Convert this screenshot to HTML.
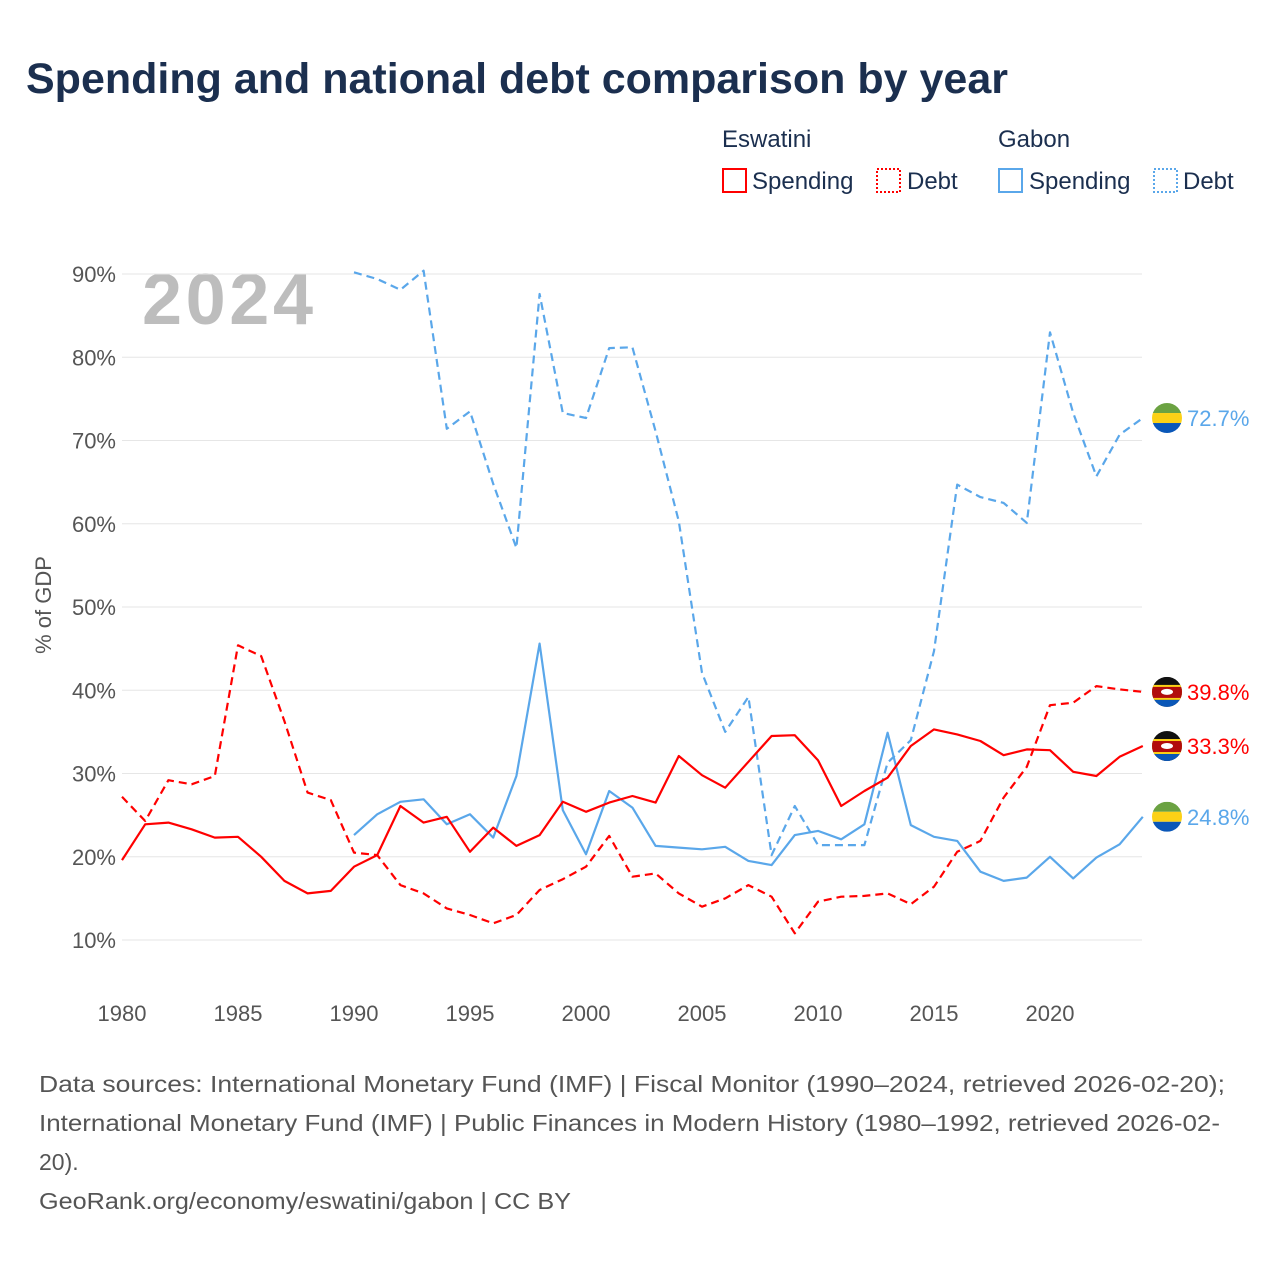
<!DOCTYPE html>
<html><head><meta charset="utf-8"><style>
body{margin:0;background:#fff;font-family:"Liberation Sans",sans-serif;}
#wrap{position:relative;width:1280px;height:1280px;overflow:hidden;}
</style></head><body>
<div id="wrap">
<svg id="chart" width="1280" height="1280" xmlns="http://www.w3.org/2000/svg">
<text x="26" y="93" font-size="43" font-weight="bold" fill="#1b2f4f" font-family="Liberation Sans, sans-serif">Spending and national debt comparison by year</text>
<g font-size="24" fill="#1b2f4f" font-family="Liberation Sans, sans-serif">
<text x="722" y="147">Eswatini</text>
<text x="998" y="147">Gabon</text>
<g><rect x="723" y="169" width="23" height="23" fill="none" stroke="#ff0000" stroke-width="2"/><text x="752" y="189">Spending</text></g>
<g><rect x="877" y="169" width="23" height="23" fill="none" stroke="#ff0000" stroke-width="2" stroke-dasharray="2,2"/><text x="907" y="189">Debt</text></g>
<g><rect x="999" y="169" width="23" height="23" fill="none" stroke="#5aa7ea" stroke-width="2"/><text x="1029" y="189">Spending</text></g>
<g><rect x="1154" y="169" width="23" height="23" fill="none" stroke="#5aa7ea" stroke-width="2" stroke-dasharray="2,2"/><text x="1183" y="189">Debt</text></g>
</g>
<text x="142" y="324" font-size="72" font-weight="bold" fill="#bdbdbd" textLength="171">2024</text>
<text transform="translate(51,605) rotate(-90)" text-anchor="middle" font-size="22" fill="#555">% of GDP</text>
<g id="grid"></g><g id="series"></g><g id="ends"></g>
<g font-size="23" fill="#555">
<text x="39" y="1092" textLength="1186" lengthAdjust="spacingAndGlyphs">Data sources: International Monetary Fund (IMF) | Fiscal Monitor (1990–2024, retrieved 2026-02-20);</text>
<text x="39" y="1131" textLength="1181" lengthAdjust="spacingAndGlyphs">International Monetary Fund (IMF) | Public Finances in Modern History (1980–1992, retrieved 2026-02-</text>
<text x="39" y="1170">20).</text>
<text x="39" y="1209" textLength="532" lengthAdjust="spacingAndGlyphs">GeoRank.org/economy/eswatini/gabon | CC BY</text>
</g>
</svg>
</div>
<script>
const yTicks=[10,20,30,40,50,60,70,80,90];
const xTicks=[1980,1985,1990,1995,2000,2005,2010,2015,2020];
const eswSpending=[19.6,23.9,24.1,23.3,22.3,22.4,20.0,17.1,15.6,15.9,18.8,20.2,26.1,24.1,24.8,20.6,23.5,21.3,22.6,26.6,25.4,26.5,27.3,26.5,32.1,29.8,28.3,31.4,34.5,34.6,31.6,26.1,27.9,29.5,33.3,35.3,34.7,33.9,32.2,32.9,32.8,30.2,29.7,32.0,33.3];
const eswDebt=[27.2,24.3,29.2,28.7,29.7,45.4,44.1,36.3,27.7,26.8,20.5,20.2,16.6,15.6,13.8,13.0,12.0,13.0,16.0,17.3,18.8,22.5,17.6,18.0,15.6,14.0,15.0,16.6,15.2,10.8,14.6,15.2,15.3,15.6,14.3,16.4,20.6,21.9,27.1,30.8,38.2,38.5,40.5,40.1,39.8];
const gabSpending=[22.6,25.1,26.6,26.9,23.9,25.1,22.3,29.7,45.6,25.6,20.3,27.9,25.9,21.3,21.1,20.9,21.2,19.5,19.0,22.6,23.1,22.1,23.9,34.9,23.8,22.4,21.9,18.2,17.1,17.5,20.0,17.4,19.9,21.5,24.8];
const gabDebt=[90.2,89.4,88.1,90.4,71.4,73.5,64.8,57.1,87.6,73.3,72.7,81.1,81.2,71.1,60.3,42.1,35.0,39.2,20.2,26.1,21.4,21.4,21.4,31.3,34.0,44.7,64.7,63.2,62.5,60.1,83.0,73.3,65.7,70.7,72.7];
const NS='http://www.w3.org/2000/svg';
const X=yr=>122+(yr-1980)*23.2;
const Y=v=>274+(90-v)*8.325;
function mk(tag,attrs,parent){const e=document.createElementNS(NS,tag);for(const k in attrs)e.setAttribute(k,attrs[k]);parent.appendChild(e);return e;}
const grid=document.getElementById('grid');
yTicks.forEach(t=>{
 const l=mk('line',{x1:122,x2:1142,y1:Y(t),y2:Y(t),stroke:'#e6e6e6','stroke-width':1},grid);
 
 
 const tx=mk('text',{x:116,y:Y(t)+8,'text-anchor':'end','font-size':22,fill:'#555'},grid);
 tx.textContent=t+'%';
 
 
});
xTicks.forEach(t=>{
 const tx=mk('text',{x:X(t),y:1021,'text-anchor':'middle','font-size':22,fill:'#555'},grid);
 tx.textContent=t;
 
 
});
const ser=document.getElementById('series');
function line(vals,start,color,dash,name){
 const d=vals.map((v,i)=>(i?'L':'M')+X(start+i).toFixed(1)+','+Y(v).toFixed(1)).join(' ');
 const p=mk('path',{d:d,fill:'none',stroke:color,'stroke-width':2.2,'stroke-linejoin':'round'},ser);
 if(dash)p.setAttribute('stroke-dasharray','8,5');
 
 
}
line(gabDebt,1990,'#5aa7ea',true,'line-gabon-debt');
line(gabSpending,1990,'#5aa7ea',false,'line-gabon-spending');
line(eswDebt,1980,'#ff0000',true,'line-eswatini-debt');
line(eswSpending,1980,'#ff0000',false,'line-eswatini-spending');
const ends=document.getElementById('ends');
function flag(v,country,color,name){
 const cy=Y(v),cx=1167;
 const g=mk('g',{},ends);
 
 
 const id='c'+name;
 const cp=mk('clipPath',{id:id},g);mk('circle',{cx:cx,cy:cy,r:15},cp);
 const f=mk('g',{'clip-path':'url(#'+id+')'},g);
 if(country==='gab'){
  mk('rect',{x:cx-15,y:cy-15,width:30,height:10,fill:'#6ba242'},f);
  mk('rect',{x:cx-15,y:cy-5,width:30,height:10,fill:'#fcd116'},f);
  mk('rect',{x:cx-15,y:cy+5,width:30,height:10,fill:'#0a57b8'},f);
 }else{
  mk('rect',{x:cx-15,y:cy-15,width:30,height:30,fill:'#111'},f);
  mk('rect',{x:cx-15,y:cy-7,width:30,height:15,fill:'#fcd116'},f);
  mk('rect',{x:cx-15,y:cy-5,width:30,height:11,fill:'#b10c0c'},f);
  mk('rect',{x:cx-15,y:cy+8,width:30,height:7,fill:'#0a57b8'},f);
  mk('ellipse',{cx:cx,cy:cy,rx:6,ry:3,fill:'#fff'},f);
 }
 const t=mk('text',{x:1187,y:cy+8,'font-size':22,fill:color},g);
 t.textContent=v.toFixed(1)+'%';
}
flag(gabDebt[gabDebt.length-1],'gab','#5aa7ea','end-label-gabon-debt');
flag(eswDebt[eswDebt.length-1],'esw','#ff0000','end-label-eswatini-debt');
flag(eswSpending[eswSpending.length-1],'esw','#ff0000','end-label-eswatini-spending');
flag(gabSpending[gabSpending.length-1],'gab','#5aa7ea','end-label-gabon-spending');
</script>
</body></html>
